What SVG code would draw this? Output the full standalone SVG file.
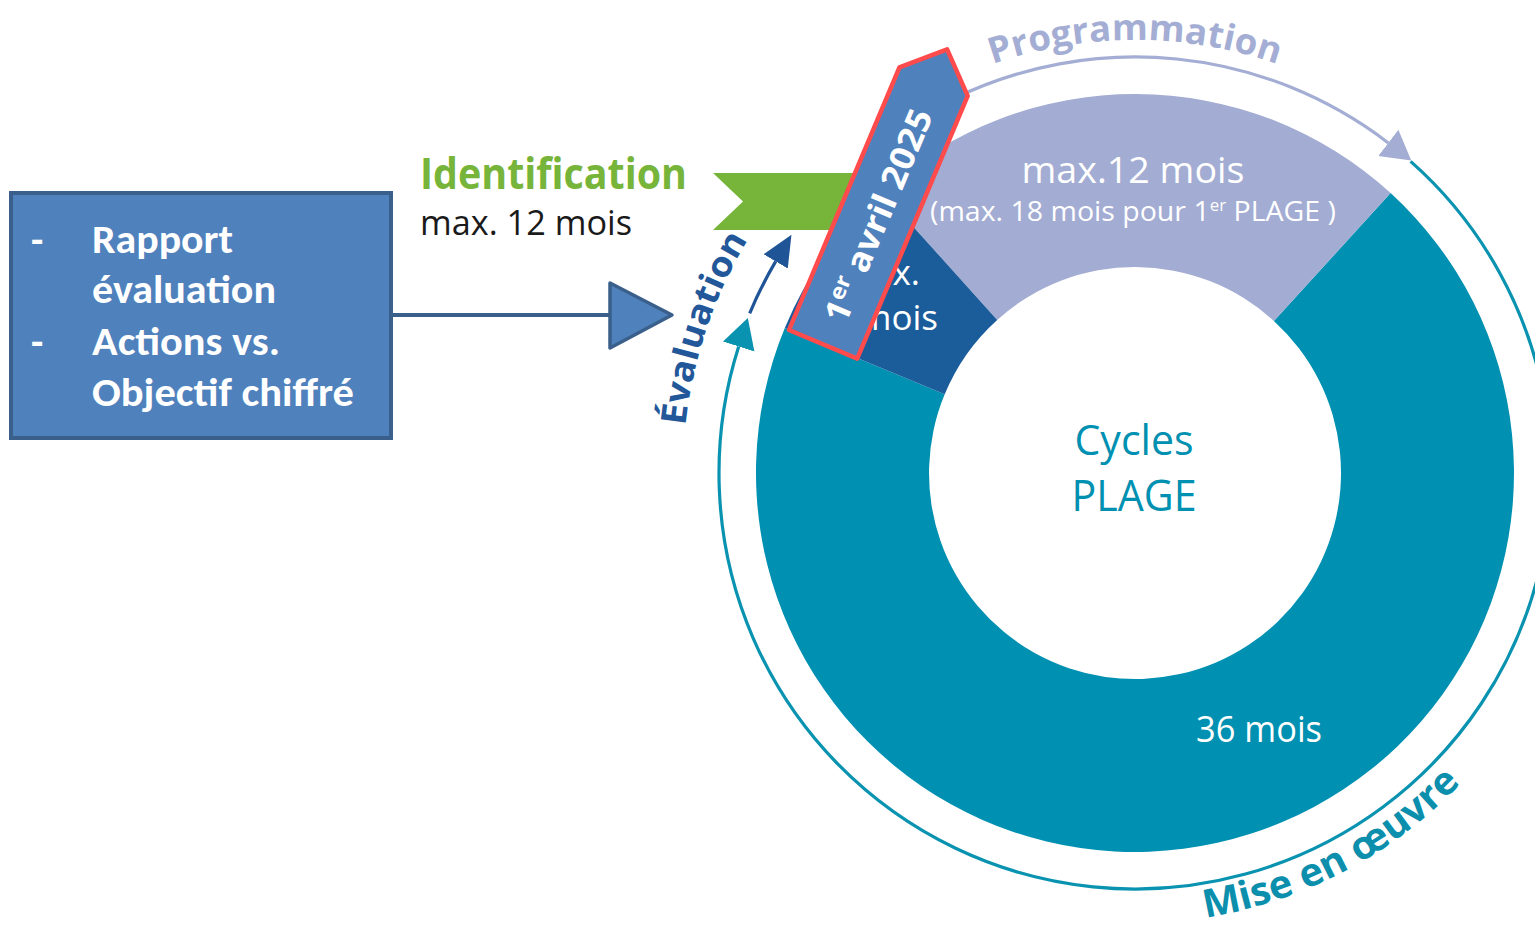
<svg xmlns="http://www.w3.org/2000/svg" width="1535" height="928" viewBox="0 0 1535 928">
<style>
.myr{font-family:"Open Sans","Noto Sans","Liberation Sans",sans-serif}
.myrb{font-family:"Open Sans","Noto Sans","Liberation Sans",sans-serif;font-weight:700}
.cal{font-family:Carlito,Lato,"Open Sans",sans-serif;font-weight:700;fill:#ffffff;font-size:40px}
.w{fill:#ffffff}
.arc{fill:none;stroke-width:3.2}
</style>
<defs>
<marker id="mLav" markerUnits="userSpaceOnUse" markerWidth="34" markerHeight="38" viewBox="0 -19 34 38" refX="0" refY="0" orient="auto"><path d="M0,-16.5 L29,0 L0,16.5 z" fill="#a4aed4"/></marker>
<marker id="mTeal" markerUnits="userSpaceOnUse" markerWidth="34" markerHeight="38" viewBox="0 -19 34 38" refX="0" refY="0" orient="auto"><path d="M0,-16.5 L30,0 L0,16.5 z" fill="#0a93b0"/></marker>
<marker id="mDark" markerUnits="userSpaceOnUse" markerWidth="34" markerHeight="38" viewBox="0 -19 34 38" refX="0" refY="0" orient="auto"><path d="M0,-14 L31,0 L0,14 z" fill="#1f5597"/></marker>
<path id="pProg" d="M 952.0 80.6 A 433 433 0 0 1 1318.0 80.6"/>
<path id="pEval" d="M 685.5 425.8 A 452 452 0 0 1 764.7 213.7"/>
<path id="pMise" d="M 1205.4 917.5 A 450 450 0 0 0 1479.7 762.3"/>
</defs>
<rect x="0" y="0" width="1535" height="928" fill="#ffffff"/>

<g id="donut">
  <path id="seg-mise" d="M 1390.6 193.1 A 379 379 0 1 1 784.8 328.0 L 944.7 394.2 A 206 206 0 1 0 1273.9 320.9 Z" fill="#0090b1"/>
  <path id="seg-prog" d="M 881.4 191.4 A 379 379 0 0 1 1390.6 193.1 L 1273.9 320.9 A 206 206 0 0 0 997.2 319.9 Z" fill="#a3acd2"/>
  <path id="seg-eval" d="M 784.8 328.0 A 379 379 0 0 1 881.4 191.4 L 997.2 319.9 A 206 206 0 0 0 944.7 394.2 Z" fill="#1b5c9b"/>
</g>

<g id="seg-prog-label" class="myr w">
  <text x="1133" y="183" font-size="37" text-anchor="middle" textLength="223" lengthAdjust="spacingAndGlyphs">max.12 mois</text>
  <text x="1133" y="221" font-size="27" text-anchor="middle" textLength="406" lengthAdjust="spacingAndGlyphs">(max. 18 mois pour 1<tspan font-size="16" dy="-10">er</tspan><tspan dy="10"> PLAGE )</tspan></text>
</g>

<g id="seg-eval-label" class="myr w">
  <text x="920" y="285" font-size="35" text-anchor="end">max.</text>
  <text x="938" y="330" font-size="35" text-anchor="end">mois</text>
</g>

<g id="seg-mise-label" class="myr w">
  <text x="1196" y="742" font-size="36" textLength="126" lengthAdjust="spacingAndGlyphs">36 mois</text>
</g>

<g id="center-label" class="myr" fill="#0090b1">
  <text x="1134" y="455" font-size="42" text-anchor="middle" textLength="119" lengthAdjust="spacingAndGlyphs">Cycles</text>
  <text x="1134" y="511" font-size="44" text-anchor="middle" textLength="125" lengthAdjust="spacingAndGlyphs">PLAGE</text>
</g>

<g id="source-box">
  <rect x="11" y="193" width="380" height="245" fill="#4f81bd" stroke="#3a5f8b" stroke-width="4"/>
  <text class="cal" x="31" y="253">-</text>
  <text class="cal" x="92" y="253" textLength="141" lengthAdjust="spacingAndGlyphs">Rapport</text>
  <text class="cal" x="92" y="303" textLength="184" lengthAdjust="spacingAndGlyphs">évaluation</text>
  <text class="cal" x="31" y="355">-</text>
  <text class="cal" x="92" y="355" textLength="188" lengthAdjust="spacingAndGlyphs">Actions vs.</text>
  <text class="cal" x="92" y="406" textLength="262" lengthAdjust="spacingAndGlyphs">Objectif chiffré</text>
</g>

<g id="identification">
  <polygon points="713,173 872,173 872,230 713,230 743,201.5" fill="#77b43a"/>
  <text class="myrb" x="420" y="189" font-size="43" fill="#77b43a" textLength="267" lengthAdjust="spacingAndGlyphs">Identification</text>
  <text class="myr" x="420" y="235" font-size="34" fill="#1a1a1a" textLength="212" lengthAdjust="spacingAndGlyphs">max. 12 mois</text>
</g>

<g id="connectors">
  <line x1="392" y1="315" x2="612" y2="315" stroke="#3a5f8b" stroke-width="4"/>
  <polygon points="610,283 672,315 610,348" fill="#4f81bd" stroke="#3a5f8b" stroke-width="3.5" stroke-linejoin="round"/>
  <path class="arc" d="M 952.6 99.1 A 416 416 0 0 1 1388.3 142.9" stroke="#a4aed4" marker-end="url(#mLav)"/>
  <path class="arc" d="M 1410.6 161.4 A 416 416 0 1 1 738.7 346.5" stroke="#0a93b0" marker-end="url(#mTeal)"/>
  <path class="arc" d="M 749.7 313.4 A 417 417 0 0 1 775.7 261.4" stroke="#1f5597" marker-end="url(#mDark)"/>
</g>

<g id="arc-labels" class="myrb">
  <text font-size="36" fill="#a4aed4"><textPath href="#pProg" startOffset="50%" text-anchor="middle" textLength="290" lengthAdjust="spacingAndGlyphs">Programmation</textPath></text>
  <text font-size="35" fill="#22579a"><textPath href="#pEval" startOffset="0" textLength="198" lengthAdjust="spacingAndGlyphs">Évaluation</textPath></text>
  <text font-size="39" fill="#0b8fad"><textPath href="#pMise" startOffset="0" textLength="294" lengthAdjust="spacingAndGlyphs">Mise en œuvre</textPath></text>
</g>

<g id="banner" transform="translate(789,330) rotate(-67.2)">
  <polygon points="0,0 285,0 320,37 285,74 0,74" fill="#4f81bd" stroke="#ff4b4b" stroke-width="4.5" stroke-linejoin="round"/>
  <text class="myrb w" x="140" y="50" font-size="34" text-anchor="middle" textLength="228" lengthAdjust="spacingAndGlyphs">1<tspan font-size="22" dy="-12">er</tspan><tspan dy="12"> avril 2025</tspan></text>
</g>
</svg>
